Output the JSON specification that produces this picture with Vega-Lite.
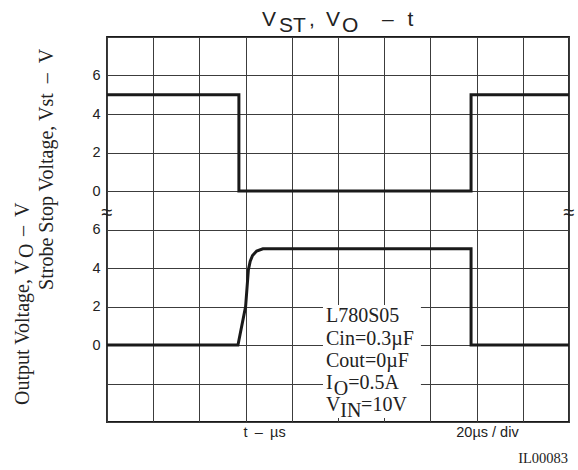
{
  "$schema": "https://vega.github.io/schema/vega-lite/v6.json",
  "width": 462,
  "height": 385,
  "autosize": {"type": "none"},
  "padding": {"left": 107, "top": 37, "right": 9, "bottom": 48},
  "background": "white",
  "config": {
    "view": {"stroke": "#1a1a1a", "strokeWidth": 1.8},
    "axis": {"gridColor": "#3c3c3c", "gridWidth": 1, "gridOpacity": 1}
  },
  "datasets": {
    "vst": [
      {"i": 0, "t": 0, "v": 5},
      {"i": 1, "t": 57.1, "v": 5},
      {"i": 2, "t": 57.1, "v": 0},
      {"i": 3, "t": 157.6, "v": 0},
      {"i": 4, "t": 157.6, "v": 5},
      {"i": 5, "t": 200, "v": 5}
    ],
    "vo": [
      {"i": 0, "t": 0, "v": 0},
      {"i": 1, "t": 56.7, "v": 0},
      {"i": 2, "t": 60.0, "v": 2},
      {"i": 3, "t": 61.2, "v": 3.9},
      {"i": 4, "t": 62.0, "v": 4.35},
      {"i": 5, "t": 63.0, "v": 4.65},
      {"i": 6, "t": 64.8, "v": 4.88},
      {"i": 7, "t": 67.5, "v": 5},
      {"i": 8, "t": 157.6, "v": 5},
      {"i": 9, "t": 157.6, "v": 0},
      {"i": 10, "t": 200, "v": 0}
    ],
    "box": [{"t1": 93.5, "t2": 135.9, "v1": -5.92, "v2": -11.79}],
    "title": [
      {"t": 67.1, "v": 8.571, "text": "V"},
      {"t": 74.5, "v": 8.26, "text": "ST"},
      {"t": 87.4, "v": 8.571, "text": ","},
      {"t": 94.8, "v": 8.571, "text": "V"},
      {"t": 101.7, "v": 8.26, "text": "O"},
      {"t": 119.0, "v": 8.571, "text": "–"},
      {"t": 130.1, "v": 8.571, "text": "t"}
    ],
    "legend": [
      {"t": 94.8, "v": -6.805, "text": "L780S05"},
      {"t": 94.8, "v": -8.0, "text": "Cin=0.3µF"},
      {"t": 94.8, "v": -9.143, "text": "Cout=0µF"},
      {"t": 94.8, "v": -10.286, "text": "I"},
      {"t": 98.2, "v": -10.597, "text": "O"},
      {"t": 104.4, "v": -10.286, "text": "=0.5A"},
      {"t": 94.8, "v": -11.429, "text": "V"},
      {"t": 101.0, "v": -11.74, "text": "IN"},
      {"t": 110.0, "v": -11.429, "text": "=10V"}
    ],
    "ytitles": [
      {"t": -33.98, "v": -11.117, "text": "Output Voltage, V"},
      {"t": -32.03, "v": -3.481, "text": "O"},
      {"t": -33.98, "v": -2.338, "text": "–"},
      {"t": -33.98, "v": -1.351, "text": "V"},
      {"t": -23.4, "v": -5.14, "text": "Strobe Stop Voltage, Vst\u2002–\u2002V"}
    ],
    "breaks": [
      {"t": 0, "v": -1.117, "text": "≈"},
      {"t": 200, "v": -1.117, "text": "≈"}
    ],
    "xnotes": [
      {"t": 68.2, "v": -12.78, "text": "t\u2002–\u2002µs"},
      {"t": 164.7, "v": -12.78, "text": "20µs / div"}
    ],
    "code": [{"t": 199.6, "v": -14.13, "text": "IL00083"}]
  },
  "layer": [
    {
      "data": {"name": "vst"},
      "mark": {"type": "line", "color": "#1a1a1a", "strokeWidth": 3},
      "encoding": {
        "x": {
          "field": "t", "type": "quantitative",
          "scale": {"domain": [0, 200], "nice": false, "zero": false},
          "axis": {"values": [0, 20, 40, 60, 80, 100, 120, 140, 160, 180, 200], "grid": true, "labels": false, "ticks": false, "domain": false, "title": null}
        },
        "y": {
          "field": "v", "type": "quantitative",
          "scale": {"domain": [-12, 8], "nice": false, "zero": false},
          "axis": {
            "values": [-12, -10, -8, -6, -4, -2, 0, 2, 4, 6, 8],
            "grid": true, "ticks": false, "domain": false, "title": null,
            "labelExpr": "datum.value >= 0 && datum.value <= 6 ? datum.value : (datum.value <= -2 && datum.value >= -8 ? datum.value + 8 : '')",
            "labelFont": "Liberation Sans", "labelFontSize": 14.5, "labelColor": "#222", "labelPadding": 7
          }
        },
        "order": {"field": "i", "type": "quantitative"}
      }
    },
    {
      "data": {"name": "vo"},
      "mark": {"type": "line", "color": "#1a1a1a", "strokeWidth": 3},
      "encoding": {
        "x": {"field": "t", "type": "quantitative", "scale": {"domain": [0, 200], "nice": false, "zero": false}},
        "y": {"field": "v", "type": "quantitative", "scale": {"domain": [-4, 16], "nice": false, "zero": false}, "axis": null},
        "order": {"field": "i", "type": "quantitative"}
      }
    },
    {
      "data": {"name": "box"},
      "mark": {"type": "rect", "fill": "white", "stroke": null},
      "encoding": {
        "x": {"field": "t1", "type": "quantitative", "scale": {"domain": [0, 200], "nice": false, "zero": false}},
        "x2": {"field": "t2"},
        "y": {"field": "v1", "type": "quantitative", "scale": {"domain": [-12, 8], "nice": false, "zero": false}, "axis": null},
        "y2": {"field": "v2"}
      }
    },
    {
      "data": {"name": "title"},
      "mark": {"type": "text", "font": "Liberation Sans", "fontSize": 21, "align": "left", "baseline": "alphabetic", "color": "#222"},
      "encoding": {
        "x": {"field": "t", "type": "quantitative", "scale": {"domain": [0, 200], "nice": false, "zero": false}},
        "y": {"field": "v", "type": "quantitative", "scale": {"domain": [-12, 8], "nice": false, "zero": false}, "axis": null},
        "text": {"field": "text"}
      }
    },
    {
      "data": {"name": "legend"},
      "mark": {"type": "text", "font": "Liberation Serif", "fontSize": 20, "align": "left", "baseline": "alphabetic", "color": "#222"},
      "encoding": {
        "x": {"field": "t", "type": "quantitative", "scale": {"domain": [0, 200], "nice": false, "zero": false}},
        "y": {"field": "v", "type": "quantitative", "scale": {"domain": [-12, 8], "nice": false, "zero": false}, "axis": null},
        "text": {"field": "text"}
      }
    },
    {
      "data": {"name": "ytitles"},
      "mark": {"type": "text", "font": "Liberation Serif", "fontSize": 20, "align": "left", "baseline": "alphabetic", "angle": 270, "color": "#222"},
      "encoding": {
        "x": {"field": "t", "type": "quantitative", "scale": {"domain": [0, 200], "nice": false, "zero": false}},
        "y": {"field": "v", "type": "quantitative", "scale": {"domain": [-12, 8], "nice": false, "zero": false}, "axis": null},
        "text": {"field": "text"}
      }
    },
    {
      "data": {"name": "breaks"},
      "mark": {"type": "text", "font": "Liberation Sans", "fontSize": 20, "align": "center", "baseline": "middle", "color": "#222"},
      "encoding": {
        "x": {"field": "t", "type": "quantitative", "scale": {"domain": [0, 200], "nice": false, "zero": false}},
        "y": {"field": "v", "type": "quantitative", "scale": {"domain": [-12, 8], "nice": false, "zero": false}, "axis": null},
        "text": {"field": "text"}
      }
    },
    {
      "data": {"name": "xnotes"},
      "mark": {"type": "text", "font": "Liberation Sans", "fontSize": 14.5, "align": "center", "baseline": "alphabetic", "color": "#222"},
      "encoding": {
        "x": {"field": "t", "type": "quantitative", "scale": {"domain": [0, 200], "nice": false, "zero": false}},
        "y": {"field": "v", "type": "quantitative", "scale": {"domain": [-12, 8], "nice": false, "zero": false}, "axis": null},
        "text": {"field": "text"}
      }
    },
    {
      "data": {"name": "code"},
      "mark": {"type": "text", "font": "Liberation Serif", "fontSize": 14.5, "align": "right", "baseline": "alphabetic", "color": "#222"},
      "encoding": {
        "x": {"field": "t", "type": "quantitative", "scale": {"domain": [0, 200], "nice": false, "zero": false}},
        "y": {"field": "v", "type": "quantitative", "scale": {"domain": [-12, 8], "nice": false, "zero": false}, "axis": null},
        "text": {"field": "text"}
      }
    }
  ],
  "resolve": {"scale": {"y": "independent"}}
}
